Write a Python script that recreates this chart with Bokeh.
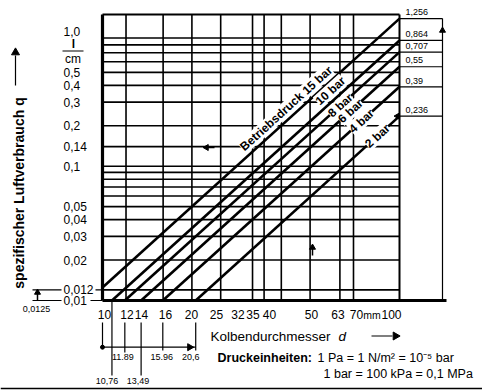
import math
from bokeh.plotting import figure
from bokeh.models import Range1d
from bokeh.core.properties import value
from bokeh.embed import file_html
from bokeh.resources import INLINE

# ---------------- data ----------------
pressure_labels = ["Betriebsdruck 15 bar", "10 bar", "8 bar", "6 bar", "4 bar", "2 bar"]
d_start = [10.0, 10.76, 11.89, 13.49, 15.96, 20.6]      # piston diameter at start of line (mm)
q_start = [0.0125, 0.01, 0.01, 0.01, 0.01, 0.01]        # air consumption at start (l/cm)
d_end = [100, 100, 100, 100, 100, 100]
q_end = [1.256, 0.864, 0.707, 0.55, 0.39, 0.236]

d_start_labels = ["10,76", "11.89", "13,49", "15.96", "20,6"]
q_end_labels = ["1,256", "0,864", "0,707", "0,55", "0,39", "0,236"]
q_start_label = "0,0125"

x_ticks = [10, 12, 14, 16, 20, 25, 32, 35, 40, 50, 63, 70, 100]
x_grid = [12, 16, 20, 25, 32, 35, 40, 50, 63, 70]
y_ticks = [0.01, 0.012, 0.02, 0.03, 0.04, 0.05, 0.1, 0.14, 0.2, 0.3, 0.4, 0.5, 1.0]
y_tick_labels = ["0,01", "0,012", "0,02", "0,03", "0,04", "0,05", "0,1", "0,14",
                 "0,2", "0,3", "0,4", "0,5", "1,0"]
y_grid = [0.012, 0.02, 0.03, 0.04, 0.05, 0.06, 0.07, 0.08, 0.09, 0.1, 0.14,
          0.2, 0.3, 0.4, 0.5, 0.6, 0.7, 0.8, 0.9]

# ---------------- layout (page pixels) ----------------
W, H = 482, 391
OX, OY = 0, 0
X10_PX, XDEC = 102.0, 297.0
Y001_PX, YDEC = 300.0, 134.3
X_MIN, X_MAX = x_ticks[0], x_ticks[-1]
Y_MIN = y_ticks[0]
# centre of each x tick label (page px) as typeset in the original
x_label_px = [104, 126.5, 141, 165, 191, 216, 237.5, 252.5, 269, 311, 337.5, 356, 391]


def xd(px):
    return X_MIN * 10 ** ((px - X10_PX) / XDEC)


def yd(py):
    return Y_MIN * 10 ** ((Y001_PX - py) / YDEC)


def xp(d):
    return X10_PX + XDEC * math.log10(d / X_MIN)


def yp(q):
    return Y001_PX - YDEC * math.log10(q / Y_MIN)


Y_TOP = yd(14)
FONT = "Liberation Sans"

p = figure(width=W, height=H, x_axis_type="log", y_axis_type="log",
           x_range=Range1d(xd(OX), xd(OX + W)), y_range=Range1d(yd(OY + H), yd(OY)),
           toolbar_location=None, output_backend="svg", min_border=0)
p.axis.visible = False
p.grid.visible = False
p.outline_line_color = None
p.background_fill_color = "white"
p.border_fill_color = "white"


def txt(xs, ys, texts, size="12px", align="left", baseline="middle", style="normal",
        angle=0.0, font=FONT, bg=None):
    kw = {}
    if bg is not None:
        kw["background_fill_color"] = bg
    p.text(x=xs, y=ys, text=texts, angle=angle, text_font=value(font),
           text_font_size=value(size), text_align=align, text_baseline=baseline,
           text_font_style=style, text_color="black", **kw)


def seg(x0, y0, x1, y1, w=1.2):
    p.segment(x0=x0, y0=y0, x1=x1, y1=y1, line_color="black", line_width=w)


def head(x, y, ang, size=7):
    p.scatter(x=[x], y=[y], marker="triangle", size=size, angle=ang,
              fill_color="black", line_color="black")


# ---------------- grid ----------------
seg(x_grid, [Y_MIN] * len(x_grid), x_grid, [Y_TOP] * len(x_grid), 1.6)
seg([X_MIN] * len(y_grid), y_grid, [X_MAX] * len(y_grid), y_grid, 1.6)

# ---------------- frame ----------------
seg([X_MIN], [Y_TOP], [X_MAX], [Y_TOP], 2)
seg([X_MAX], [Y_MIN], [X_MAX], [Y_TOP], 2)
seg([X_MIN], [Y_MIN], [X_MIN], [Y_TOP], 3.2)
seg([X_MIN], [Y_MIN], [xd(446)], [Y_MIN], 3.2)

# ---------------- pressure lines ----------------
p.segment(x0=d_start, y0=q_start, x1=d_end, y1=q_end, line_color="black", line_width=2.6)

# labels on the lines
label_px = [292.0, 336.0, 340.0, 350.0, 361.0, 377.0]
label_off = [9.4, 8.9, 0.0, 0.0, 0.0, 0.0]
for i, t in enumerate(pressure_labels):
    x0p, y0p = xp(d_start[i]), yp(q_start[i])
    x1p, y1p = xp(d_end[i]), yp(q_end[i])
    th = math.atan2(y0p - y1p, x1p - x0p)
    fx = label_px[i]
    fy = y0p + (fx - x0p) / (x1p - x0p) * (y1p - y0p)
    cx = fx - label_off[i] * math.sin(th)
    cy = fy - label_off[i] * math.cos(th)
    txt([xd(cx)], [yd(cy)], [t], size="12px", align="center", style="bold",
        angle=th, bg="white")

# ---------------- y tick labels & unit ----------------
txt([xd(63)] * len(y_ticks), y_ticks, y_tick_labels, size="12px")
txt([xd(73)], [yd(43.5)], ["l"], size="12px", align="center", style="bold")
seg([xd(62)], [yd(50.5)], [xd(83)], [yd(50.5)], 1.2)
txt([xd(72.5)], [yd(58.5)], ["cm"], size="12px", align="center")

# ---------------- x tick labels ----------------
txt([xd(v) for v in x_label_px], [yd(314)] * len(x_label_px),
    [str(t) for t in x_ticks], size="12px", align="center")
txt([xd(371.5)], [yd(314)], ["mm"], size="10.5px", align="center")

# ---------------- axis titles ----------------
txt([xd(210)], [yd(335.5)], ["Kolbendurchmesser"], size="13.5px")
txt([xd(338)], [yd(335.5)], ["d"], size="13.5px", style="italic")
seg([xd(371)], [yd(335.5)], [xd(392)], [yd(335.5)], 1.2)
head(xd(395), yd(335.5), -math.pi / 2, 8)

txt([xd(18.5)], [yd(192.5)], ["spezifischer Luftverbrauch q"], size="14px",
    align="center", style="bold", angle=math.pi / 2)
seg([xd(15)], [yd(85)], [xd(15)], [yd(55)], 1.2)
head(xd(15), yd(52), 0.0, 8)

# ---------------- left annotation 0,0125 ----------------
seg([xd(32), xd(32)], [y_ticks[1], Y_MIN], [xd(61), xd(61)], [y_ticks[1], Y_MIN], 1.2)
seg([xd(95), xd(90)], [y_ticks[1], Y_MIN], [X_MIN, X_MIN], [y_ticks[1], Y_MIN], 1.2)
seg([xd(37)], [Y_MIN], [xd(37)], [yd(291)], 1.5)
head(xd(37), yd(292), 0.0, 6)
txt([xd(36)], [yd(308)], [q_start_label], size="9px", align="center")

# ---------------- bottom annotation ----------------
seg([X_MIN], [yd(322)], [X_MIN], [yd(346.7)], 1.2)
p.scatter(x=[X_MIN], y=[yd(346.7)], size=4, fill_color="black", line_color="black")
seg([X_MIN], [yd(346.7)], [d_start[-1]], [yd(346.7)], 1.2)
head(xd(xp(d_start[-1]) - 6), yd(346.7), -math.pi / 2, 7)

ann_top = [301, 322, 322, 322, 322]
ann_bot = [375, 352, 375, 350, 350]
lab_y = [380, 356, 380, 356, 356]
lab_dx = [-5, -2, -3, -1, -5]
ds = d_start[1:]
seg(ds, [yd(v) for v in ann_top], ds, [yd(v) for v in ann_bot], 1.2)
txt([xd(xp(d) + dx) for d, dx in zip(ds, lab_dx)], [yd(v) for v in lab_y],
    d_start_labels, size="9px", align="center")

# ---------------- right annotation ----------------
seg([X_MAX] * 5, q_end[:5], [xd(442)] * 5, q_end[:5], 1.2)
seg([xd(396)], [q_end[5]], [xd(442)], [q_end[5]], 1.2)
head(xd(397), q_end[5], math.pi / 2, 6)
txt([xd(405)] * len(q_end), [yd(yp(q) - 6.3) for q in q_end], q_end_labels, size="9px")
seg([xd(442)], [Y_MIN], [xd(442)], [q_end[0]], 1.2)
head(xd(442), yd(30), 0.0, 6)

# ---------------- reading-direction arrows inside the plot ----------------
seg([xd(206)], [yd(147)], [xd(214)], [yd(147)], 1.5)
head(xd(206), yd(147), math.pi / 2, 6)
seg([xd(312)], [yd(247)], [xd(312)], [yd(255)], 1.5)
head(xd(312), yd(247), 0.0, 6)

# ---------------- footer ----------------
txt([xd(217)], [yd(357)], ["Druckeinheiten:"], size="12.5px", style="bold")
txt([xd(317)], [yd(357)], ["1 Pa = 1 N/m² = 10⁻⁵ bar"], size="12.5px")
txt([xd(323)], [yd(373.5)], ["1 bar = 100 kPa = 0,1 MPa"], size="12.5px")
seg([xd(0)], [yd(388)], [xd(482)], [yd(388)], 1.5)

open("out.html", "w").write(file_html(p, INLINE))
